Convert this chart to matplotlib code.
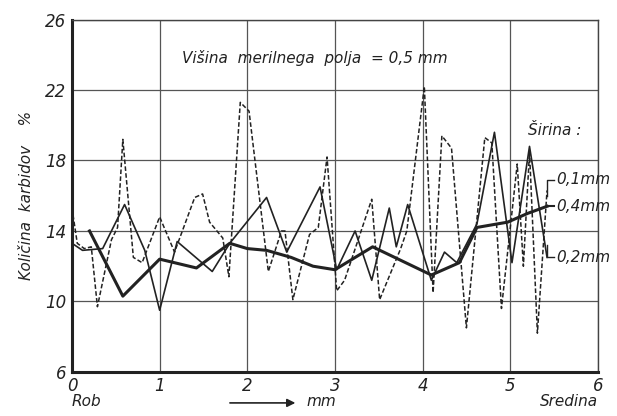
import matplotlib
matplotlib.use('Agg')
import matplotlib.pyplot as plt

plt.rcParams['font.family'] = ['DejaVu Sans']
plt.rcParams['font.style'] = 'italic'

# sirina 0,1 mm (crtkano)
x01 = [0.00, 0.06, 0.14, 0.22, 0.29, 0.45, 0.52, 0.58, 0.70, 0.80, 1.00, 1.17, 1.40, 1.49,
       1.57, 1.72, 1.79, 1.92, 2.02, 2.24, 2.39, 2.43, 2.52, 2.71, 2.81, 2.91, 3.02, 3.11,
       3.42, 3.51, 3.75, 3.82, 4.02, 4.12, 4.22, 4.33, 4.50, 4.71, 4.79, 4.90, 5.08, 5.15,
       5.22, 5.31, 5.42]
y01 = [15.3, 13.3, 13.0, 13.1, 9.7, 13.5, 14.2, 19.2, 12.5, 12.2, 14.8, 12.8, 15.9, 16.1,
       14.5, 13.6, 11.4, 21.3, 20.8, 11.7, 14.0, 14.0, 10.1, 13.8, 14.2, 18.2, 10.6, 11.2,
       15.8, 10.1, 13.0, 14.0, 22.2, 10.5, 19.4, 18.7, 8.5, 19.3, 19.0, 9.6, 17.8, 12.0,
       18.5, 8.2, 16.3]

# sirina 0,2 mm (tanka polna)
x02 = [0.00, 0.12, 0.35, 0.60, 0.83, 1.00, 1.20, 1.60, 1.80, 2.22, 2.45, 2.83, 3.02, 3.23,
       3.42, 3.62, 3.70, 3.83, 4.10, 4.25, 4.39, 4.62, 4.82, 5.02, 5.22, 5.42]
y02 = [13.3, 12.9, 13.0, 15.5, 12.9, 9.5, 13.4, 11.7, 13.3, 15.9, 12.8, 16.5, 11.8, 14.0,
       11.2, 15.3, 13.1, 15.5, 11.2, 12.8, 12.2, 14.4, 19.6, 12.2, 18.8, 12.5]

# sirina 0,4 mm (debela polna)
x04 = [0.20, 0.58, 1.00, 1.42, 1.80, 2.00, 2.22, 2.50, 2.75, 3.00, 3.43, 4.10, 4.42, 4.62,
       4.97, 5.20, 5.42]
y04 = [14.0, 10.3, 12.4, 11.9, 13.3, 13.0, 12.9, 12.5, 12.0, 11.8, 13.1, 11.5, 12.2, 14.2,
       14.5, 15.0, 15.4]

xticks = [0, 1, 2, 3, 4, 5, 6]
yticks = [6, 10, 14, 18, 22, 26]

fig = plt.figure(figsize=(6.17, 4.16), dpi=100)
ax = fig.add_axes([0.1167, 0.106, 0.8523, 0.847])
ink = '#222222'

ax.plot(x01, y01, color=ink, lw=1.1, ls=(0, (3, 1.5)))
ax.plot(x02, y02, color=ink, lw=1.2)
ax.plot(x04, y04, color=ink, lw=2.2)

ax.set_xlim(0, 6)
ax.set_ylim(6, 26)
ax.set_xticks(xticks)
ax.set_yticks(yticks)
ax.tick_params(length=0, labelsize=12, pad=4, colors=ink)
ax.grid(True, color='#555555', lw=0.9)
for s in ['top', 'right']:
    ax.spines[s].set_linewidth(1.0)
    ax.spines[s].set_color('#444444')
for s in ['left', 'bottom']:
    ax.spines[s].set_linewidth(2.2)
    ax.spines[s].set_color(ink)

ax.set_ylabel('Količina  karbidov    %', fontsize=11, color=ink, labelpad=8)

ax.text(1.25, 23.8, 'Višina  merilnega  polja  = 0,5 mm', fontsize=11, color=ink, va='center')
ax.text(5.2, 19.7, 'Širina :', fontsize=11, color=ink, va='center')

# oznake krivulj
ax.plot([5.42, 5.42, 5.5], [16.0, 16.9, 16.9], color=ink, lw=1)
ax.text(5.52, 16.9, '0,1mm', fontsize=11, color=ink, va='center')
ax.plot([5.42, 5.5], [15.4, 15.4], color=ink, lw=1.5)
ax.text(5.52, 15.4, '0,4mm', fontsize=11, color=ink, va='center')
ax.plot([5.42, 5.42, 5.5], [13.2, 12.5, 12.5], color=ink, lw=1)
ax.text(5.52, 12.5, '0,2mm', fontsize=11, color=ink, va='center')

# pod osjo x
ax.text(0.0, -0.085, 'Rob', transform=ax.transAxes, fontsize=11, color=ink, va='center')
ax.text(1.0, -0.085, 'Sredina', transform=ax.transAxes, fontsize=11, color=ink,
        va='center', ha='right')
ax.annotate('', xy=(0.43, -0.088), xytext=(0.295, -0.088), xycoords='axes fraction',
            arrowprops=dict(arrowstyle='-|>', color=ink, lw=1.2, mutation_scale=12))
ax.text(0.445, -0.085, 'mm', transform=ax.transAxes, fontsize=11, color=ink, va='center')

fig.savefig('out.png', dpi=100)
